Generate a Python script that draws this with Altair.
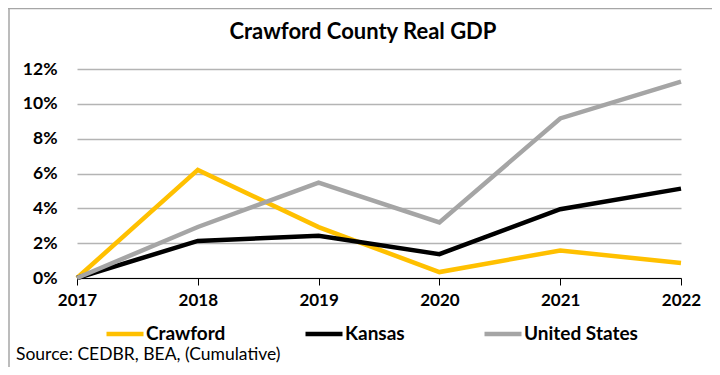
import altair as alt
import pandas as pd

years = ["2017", "2018", "2019", "2020", "2021", "2022"]
crawford = [0.0, 6.21, 2.92, 0.34, 1.58, 0.86]
kansas = [0.0, 2.13, 2.42, 1.37, 3.95, 5.13]
united_states = [0.0, 2.93, 5.48, 3.19, 9.16, 11.27]
series_names = ["Crawford", "Kansas", "United States"]
series_colors = ["#FFC000", "#000000", "#A5A5A5"]
y_ticks = [0, 2, 4, 6, 8, 10, 12]

rows = []
for name, vals in zip(series_names, [crawford, kansas, united_states]):
    for yr, v in zip(years, vals):
        rows.append({"year": yr, "value": v, "series": name})
df = pd.DataFrame(rows)

FONT = "Lato"
W, H = 604, 209

lines = alt.Chart(df).mark_line(strokeWidth=4.5, strokeCap="butt", strokeJoin="miter").encode(
    x=alt.X("year:O", scale=alt.Scale(type="point", padding=0), sort=years,
            axis=alt.Axis(title=None, labelAngle=0, labelFont=FONT, labelFontSize=17,
                          labelFontWeight="bold", labelColor="#000000", labelPadding=7,
                          tickSize=7, tickColor="#000000", domainColor="#000000",
                          domainWidth=1, tickWidth=1, grid=False)),
    y=alt.Y("value:Q", scale=alt.Scale(domain=[0, 12], nice=False),
            axis=alt.Axis(title=None, values=y_ticks, labelExpr="datum.value + '%'",
                          labelFont=FONT, labelFontSize=17.5, labelFontWeight="bold",
                          labelColor="#000000", labelPadding=20, ticks=False, domain=False,
                          grid=True, gridColor="#B4B4B4", gridWidth=1.3)),
    color=alt.Color("series:N", scale=alt.Scale(domain=series_names, range=series_colors),
                    legend=alt.Legend(title=None, orient="none", direction="horizontal",
                                      legendX=27, legendY=244, symbolType="stroke",
                                      symbolSize=1369, symbolStrokeWidth=4.5,
                                      labelFont=FONT, labelFontSize=19, labelFontWeight="bold",
                                      labelColor="#000000", columnPadding=70, labelOffset=0,
                                      padding=0)),
    detail="series:N",
)

title_df = pd.DataFrame({"t": ["Crawford County Real GDP"]})
title = alt.Chart(title_df).mark_text(font=FONT, fontSize=22, fontWeight="bold",
                                      align="center", baseline="middle", color="#000000").encode(
    x=alt.value(286), y=alt.value(-37), text="t:N")

src_df = pd.DataFrame({"t": ["Source: CEDBR, BEA, (Cumulative)"]})
source = alt.Chart(src_df).mark_text(font=FONT, fontSize=17.5, align="left",
                                     baseline="middle", color="#000000").encode(
    x=alt.value(-61), y=alt.value(286), text="t:N")

border_left = alt.Chart(title_df).mark_rule(color="#A6A6A6", strokeWidth=1.5).encode(
    x=alt.value(-68), y=alt.value(-61), y2=alt.value(298))
border_top = alt.Chart(title_df).mark_rule(color="#A6A6A6", strokeWidth=1.5).encode(
    x=alt.value(-69), x2=alt.value(635), y=alt.value(-60.5))

chart = alt.layer(border_left, border_top, lines, title, source).properties(
    width=W, height=H,
    autosize=alt.AutoSizeParams(type="none"),
    padding={"left": 69, "top": 61, "right": 31, "bottom": 89},
    background="#FFFFFF",
).configure_view(stroke=None)

chart.save("out.html", embed_options={"renderer": "svg", "actions": False})
